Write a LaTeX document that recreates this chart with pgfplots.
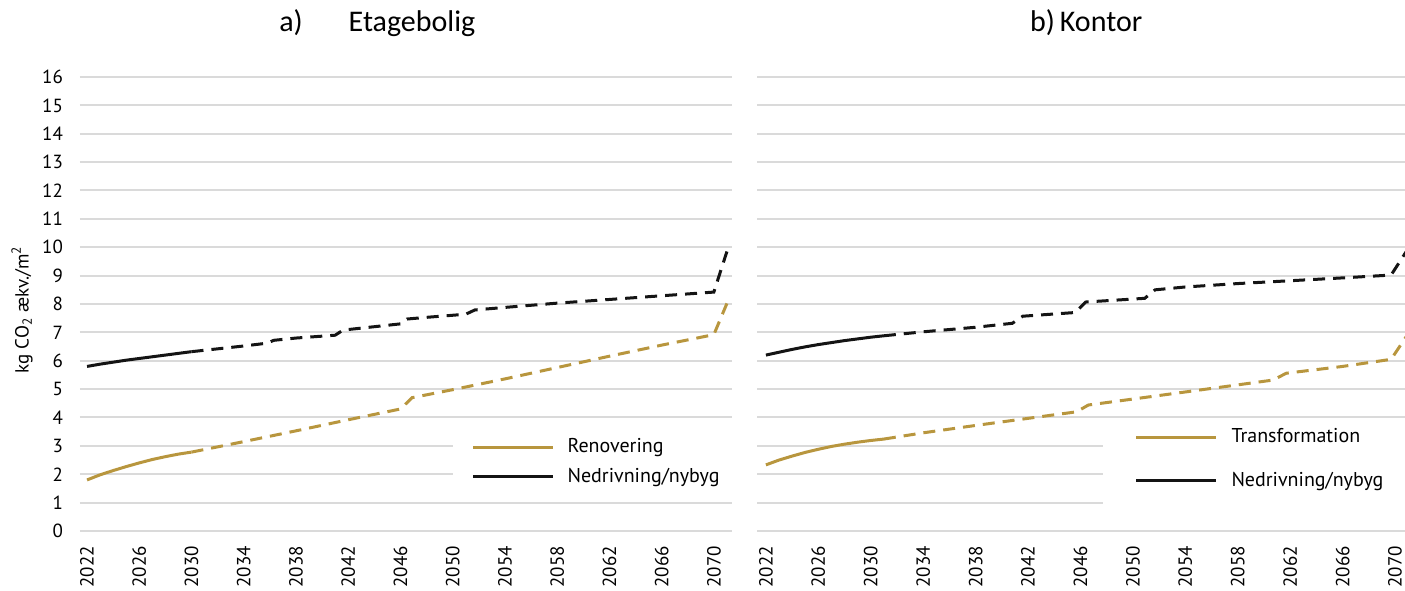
\documentclass[border=0pt]{standalone}
\usepackage{fontspec}
\setmainfont{PT Sans}
\newfontfamily\titlefont{Carlito}
\usepackage{pgfplots}
\pgfplotsset{compat=1.18}

\definecolor{gold}{RGB}{184,150,62}
\definecolor{ink}{RGB}{20,20,20}
\definecolor{gridgray}{RGB}{218,218,218}

\pgfplotsset{
  panel/.style={
    scale only axis,
    height=227pt,
    ymin=0, ymax=16,
    ytick={0,1,...,16},
    xtick={2022,2026,...,2070},
    ymajorgrids,
    grid style={color=gridgray, line width=1pt},
    axis line style={draw=none},
    major tick length=0pt,
    tick label style={font=\fontsize{9.5}{11}\selectfont},
    /pgf/number format/assume math mode=true,
    x tick label style={rotate=90, anchor=east, /pgf/number format/1000 sep={}},
    yticklabel style={xshift=-5pt},
    xticklabel shift=4pt,
    legend cell align=left,
    legend image code/.code={\draw[#1, solid] (0pt,0pt) -- (40pt,0pt);},
    every axis title shift=0pt,
    title style={font=\titlefont\fontsize{15}{18}\selectfont, anchor=center},
    clip=true,
  },
  solidline/.style={line width=1.5pt},
  dashline/.style={line width=1.5pt, dash pattern=on 6pt off 4pt},
}

\begin{document}
\begin{tikzpicture}
\useasboundingbox (0,0) rectangle (702.5pt,295pt);

% a) Etagebolig
\begin{axis}[panel,
  at={(40pt,29.5pt)}, anchor=south west,
  width=326pt,
  xmin=2021.46, xmax=2071.39,
  title={a)\hspace{23pt}Etagebolig},
  title style={at={(0.456,1.119)}},
  ylabel={kg CO\textsubscript{2} ækv./m\textsuperscript{2}},
  ylabel style={at={(axis description cs:-0.089,0.487)}, anchor=center, font=\fontsize{9.5}{11}\selectfont},
  legend style={at={(0.600,0.213)}, anchor=north west, draw=none, fill=none,
    inner sep=0pt, row sep=2pt, column sep=4.5pt,
    font=\fontsize{10}{12}\selectfont},
]
\fill[white] (rel axis cs:0.572,0.09) rectangle (rel axis cs:1.01,0.215);
\addplot[gold, solidline] coordinates {
  (2022,1.80) (2023,1.98) (2024,2.13) (2025,2.27) (2026,2.40)
  (2027,2.52) (2028,2.62) (2029,2.71) (2030,2.78)};
\addlegendentry{Renovering}
\addplot[ink, solidline] coordinates {
  (2022,5.80) (2023,5.88) (2024,5.95) (2025,6.02) (2026,6.08)
  (2027,6.14) (2028,6.20) (2029,6.26) (2030,6.32)};
\addlegendentry{Nedrivning/nybyg}
\addplot[gold, dashline, forget plot] coordinates {
  (2030,2.78) (2034,3.15) (2038,3.53) (2042,3.92) (2046,4.30)
  (2046.9,4.70) (2050,4.98) (2054,5.36) (2058,5.76) (2062,6.16)
  (2066,6.55) (2070,6.92) (2071,8.02)};
\addplot[ink, dashline, forget plot] coordinates {
  (2030,6.32) (2032,6.42) (2034,6.52) (2035.8,6.62) (2036.3,6.72)
  (2038,6.80) (2041,6.90) (2041.6,7.08) (2044,7.20) (2046,7.30)
  (2046.5,7.47) (2048,7.53) (2051,7.64) (2051.7,7.79) (2054,7.88)
  (2058,8.03) (2062,8.16) (2066,8.29) (2070,8.42) (2071,9.85)};
\end{axis}

% b) Kontor
\begin{axis}[panel,
  at={(378.5pt,29.5pt)}, anchor=south west,
  width=324pt,
  xmin=2021.32, xmax=2070.76,
  yticklabels={},
  title={b)\hspace{2.5pt}Kontor},
  title style={at={(0.508,1.119)}},
  legend style={at={(0.582,0.235)}, anchor=north west, draw=none, fill=none,
    inner sep=0pt, row sep=9pt, column sep=5pt,
    font=\fontsize{10}{12}\selectfont},
]
\fill[white] (rel axis cs:0.534,0.046) rectangle (rel axis cs:1.01,0.24);
\addplot[gold, solidline] coordinates {
  (2022,2.33) (2023,2.50) (2024,2.64) (2025,2.77) (2026,2.88)
  (2027,2.98) (2028,3.06) (2029,3.13) (2030,3.19) (2031,3.24)};
\addlegendentry{Transformation}
\addplot[ink, solidline] coordinates {
  (2022,6.20) (2023,6.30) (2024,6.40) (2025,6.49) (2026,6.57)
  (2027,6.64) (2028,6.71) (2029,6.77) (2030,6.83) (2031,6.88)};
\addlegendentry{Nedrivning/nybyg}
\addplot[gold, dashline, forget plot] coordinates {
  (2031,3.24) (2034,3.46) (2038,3.72) (2042,3.97) (2045.7,4.20)
  (2046.6,4.44) (2050,4.65) (2054,4.90) (2058,5.15) (2060.7,5.32)
  (2061.7,5.56) (2066,5.80) (2069.7,6.05) (2071,6.95)};
\addplot[ink, dashline, forget plot] coordinates {
  (2031,6.88) (2034,7.02) (2038,7.18) (2040.8,7.32) (2041.6,7.57)
  (2045.6,7.70) (2046.4,8.07) (2050.9,8.20) (2051.7,8.50) (2054,8.60)
  (2058,8.72) (2062,8.82) (2066,8.92) (2069.7,9.02) (2071,9.95)};
\end{axis}
\end{tikzpicture}
\end{document}
